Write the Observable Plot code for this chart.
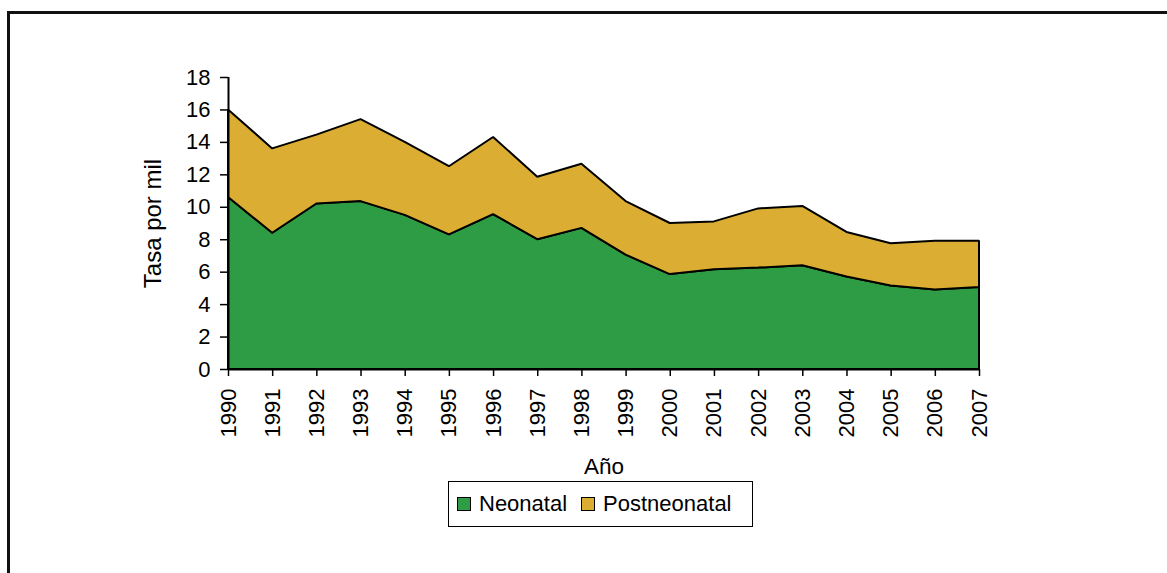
<!DOCTYPE html>
<html>
<head>
<meta charset="utf-8">
<script src="https://cdn.jsdelivr.net/npm/d3@7"></script>
<script src="https://cdn.jsdelivr.net/npm/@observablehq/plot@0.6"></script>
<style>
  html, body { margin: 0; padding: 0; background: #fff; overflow: hidden; }
  body { width: 1167px; height: 573px; position: relative; font-family: "Liberation Sans", Arial, sans-serif; }
  #frame { position: absolute; left: 7px; top: 11px; width: 1300px; height: 700px; border: 3px solid #111; box-sizing: border-box; }
  #chart { position: absolute; left: 0; top: 0; }
  #legend { position: absolute; left: 448px; top: 481px; width: 305px; height: 46px; box-sizing: border-box;
            border: 1.5px solid #000; display: flex; align-items: center; font-size: 22px; color: #000; }
  #legend .item { display: flex; align-items: center; margin-left: 8px; }
  #legend .item + .item { margin-left: 14px; }
  #legend .sw { width: 12px; height: 12px; border: 1.5px solid #000; margin-right: 8px; }
</style>
</head>
<body>
<div id="frame"></div>
<div id="chart"></div>
<div id="legend"></div>
<script>
const years = [1990,1991,1992,1993,1994,1995,1996,1997,1998,1999,2000,2001,2002,2003,2004,2005,2006,2007];
const neonatal =     [10.6, 8.4, 10.2, 10.35, 9.5, 8.3, 9.55, 8.0, 8.7, 7.05, 5.85, 6.15, 6.25, 6.4, 5.7, 5.15, 4.9, 5.05];
const postneonatal = [5.4, 5.2, 4.25, 5.05, 4.5, 4.2, 4.75, 3.85, 3.95, 3.3, 3.15, 2.95, 3.65, 3.65, 2.75, 2.6, 3.0, 2.85];
const seriesNames = ["Neonatal", "Postneonatal"];
const seriesColors = ["#2E9B45", "#DBAE33"];
const yTicks = [0,2,4,6,8,10,12,14,16,18];

const data = [];
[neonatal, postneonatal].forEach((vals, s) => {
  years.forEach((yr, i) => data.push({year: yr, value: vals[i], serie: seriesNames[s]}));
});

const chart = Plot.plot({
  width: 1167,
  height: 573,
  marginLeft: 228,
  marginRight: 188,
  marginTop: 77,
  marginBottom: 204,
  style: {fontFamily: "'Liberation Sans', Arial, sans-serif", fontSize: "22px", color: "#000", background: "transparent"},
  x: {domain: [years[0], years[years.length - 1]]},
  y: {domain: [yTicks[0], yTicks[yTicks.length - 1]]},
  color: {domain: seriesNames, range: seriesColors},
  marks: [
    Plot.areaY(data, {x: "year", y: "value", fill: "serie", stroke: "#000", strokeWidth: 2, strokeLinejoin: "miter", order: seriesNames}),
    Plot.ruleX([years[0]], {stroke: "#000", strokeWidth: 2}),
    Plot.ruleY([yTicks[0]], {stroke: "#000", strokeWidth: 2}),
    Plot.axisY({ticks: yTicks, tickSize: 8, tickPadding: 10, stroke: "#000", strokeWidth: 1.5,
                label: null, fontSize: 22}),
    Plot.axisY({ticks: [], tickSize: 0, label: "Tasa por mil", labelAnchor: "center", labelArrow: "none",
                labelOffset: 85, fontSize: 24}),
    Plot.axisX({ticks: years, tickFormat: d => String(d), tickSize: 7, tickPadding: 12, tickRotate: -90,
                stroke: "#000", strokeWidth: 1.5, label: null, fontSize: 22}),
    Plot.axisX({ticks: [], tickSize: 0, label: "Año", labelAnchor: "center", labelArrow: "none",
                labelOffset: 104, fontSize: 22.5})
  ]
});
document.getElementById("chart").appendChild(chart);

const legend = document.getElementById("legend");
seriesNames.forEach((name, i) => {
  const item = document.createElement("div");
  item.className = "item";
  const sw = document.createElement("div");
  sw.className = "sw";
  sw.style.background = seriesColors[i];
  const t = document.createElement("span");
  t.textContent = name;
  item.appendChild(sw);
  item.appendChild(t);
  legend.appendChild(item);
});
</script>
</body>
</html>
